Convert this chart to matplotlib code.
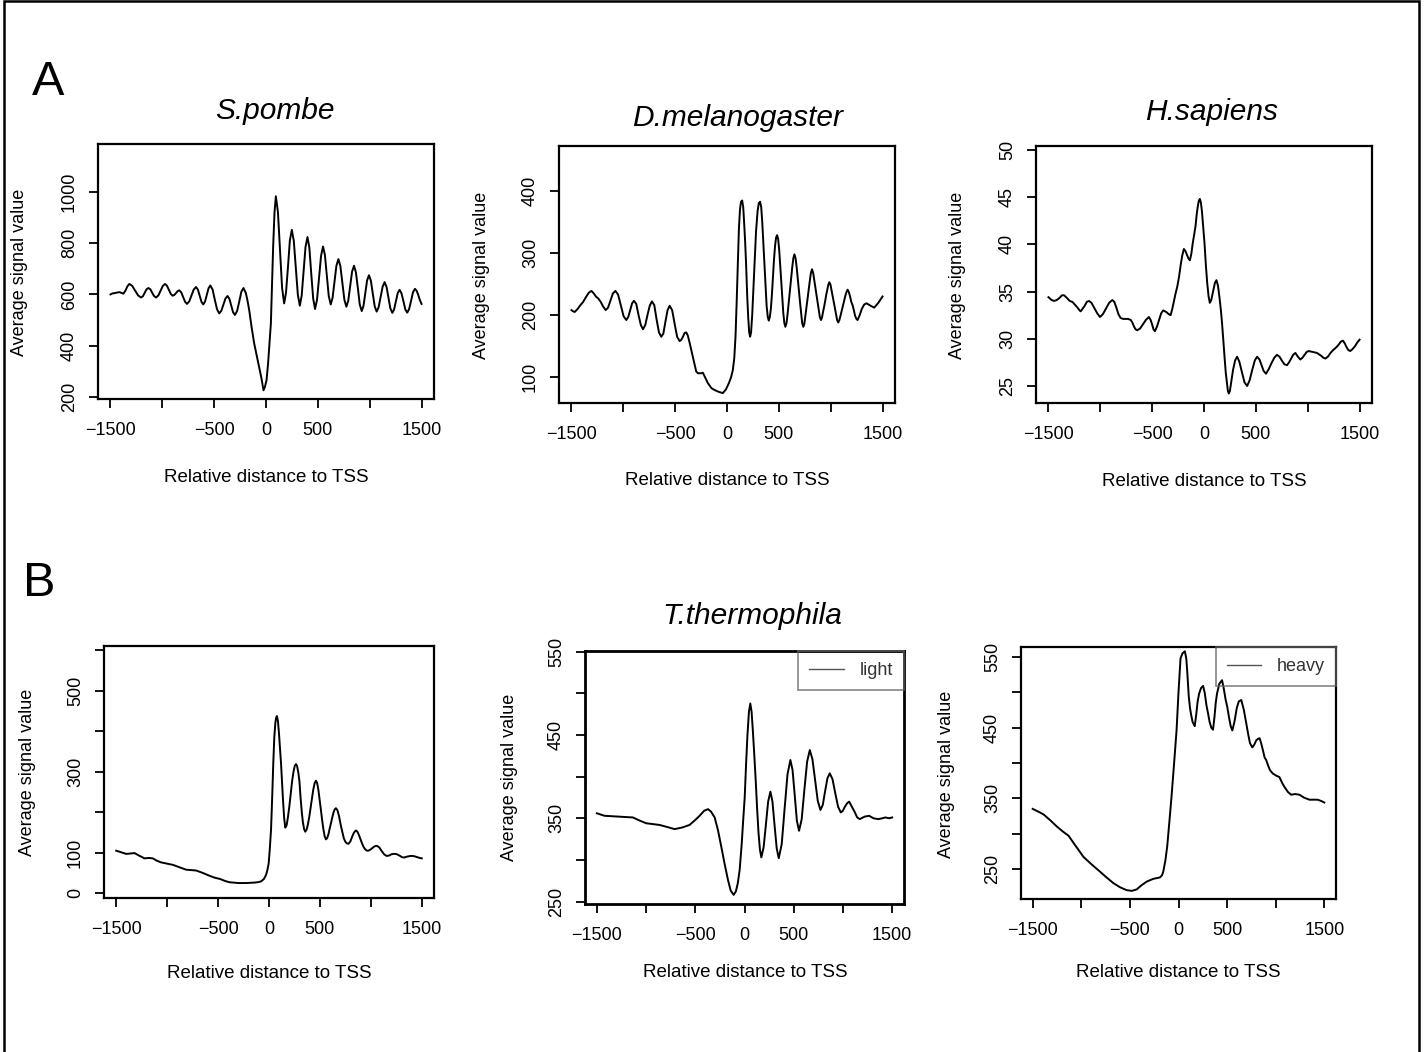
import matplotlib.pyplot as plt
from matplotlib.patches import Rectangle

plt.rcParams['font.family'] = ['Liberation Sans', 'DejaVu Sans']

# ---- average profiles around the TSS ----
pombe_x = [-1500, -1480, -1461, -1440, -1413, -1395, -1375, -1355, -1336, -1317, -1289, -1261, -1233,
           -1205, -1187, -1170, -1152, -1134, -1115, -1097, -1078, -1060, -1038, -1017, -995, -974,
           -955, -937, -918, -900, -884, -868, -852, -836, -817, -799, -780, -762, -740, -718, -697,
           -675, -657, -640, -622, -605, -588, -571, -554, -537, -515, -494, -472, -451, -431, -411,
           -391, -371, -353, -335, -318, -300, -279, -258, -238, -217, -194, -178, -162, -138, -114,
           -90, -66, -45, -24, -10, 5, 20, 35, 47, 58, 69, 82, 95, 115, 135, 155, 175, 193, 212,
           230, 249, 268, 288, 307, 326, 344, 363, 381, 400, 418, 436, 455, 473, 492, 511, 531,
           550, 568, 587, 605, 624, 642, 661, 679, 698, 717, 736, 756, 775, 793, 812, 830, 849,
           867, 886, 904, 923, 940, 958, 975, 993, 1011, 1030, 1048, 1067, 1086, 1105, 1125, 1144,
           1162, 1181, 1199, 1218, 1235, 1253, 1270, 1288, 1306, 1325, 1343, 1362, 1380, 1399,
           1417, 1436, 1452, 1468, 1484, 1500]
pombe_y = [600, 604, 605, 607, 609, 606, 603, 615, 632, 641, 633, 614, 596,
           588, 593, 606, 620, 625, 620, 606, 593, 588, 596, 614, 633, 641,
           634, 618, 602, 595, 598, 605, 613, 616, 608, 590, 571, 563, 573, 596, 619,
           629, 619, 595, 571, 561, 572, 598, 624, 635, 619, 580, 542, 526, 536, 560,
           584, 594, 583, 557, 531, 520, 535, 572, 610, 625, 605, 575, 539, 470, 409,
           362, 317, 275, 226, 240, 265, 330, 420, 487, 640, 787, 920, 983, 922, 774, 626, 565, 607, 708,
           810, 852, 809, 704, 599, 556, 595, 690, 785, 824, 783, 683, 584, 543, 579, 665, 751,
           787, 754, 674, 594, 561, 587, 650, 712, 738, 711, 645, 579, 552, 575, 632, 689, 712,
           686, 624, 561, 535, 555, 605, 655, 675, 654, 604, 554, 533, 550, 590, 631, 648,
           630, 588, 546, 528, 541, 573, 605, 618, 605, 574, 542, 529, 543, 575,
           608, 622, 615, 598, 578, 563]

mel_x = [-1500, -1484, -1468, -1440, -1414, -1388, -1360, -1333, -1307, -1285, -1264, -1243, -1220,
         -1195, -1170, -1147, -1123, -1100, -1076, -1050, -1023, -997, -971, -952, -934, -915, -897,
         -875, -853, -831, -810, -788, -767, -745, -724, -701, -679, -656, -634, -614, -593, -573,
         -553, -529, -505, -481, -457, -441, -425, -409, -393, -378, -360, -345, -320, -297, -280,
         -265, -248, -233, -210, -184, -150, -120, -80, -40, -10, 18, 40, 56, 70, 82, 93, 104,
         115, 125, 135, 146, 156, 165, 175, 184, 195, 205, 214, 223, 232, 243, 254, 265, 280,
         295, 307, 319, 330, 340, 350, 361, 372, 382, 393, 403, 413, 423, 433, 443, 453, 463,
         473, 483, 493, 503, 513, 523, 533, 543, 553, 563, 574, 585, 596, 607, 618, 629, 640,
         650, 661, 672, 682, 693, 704, 715, 725, 736, 746, 757, 767, 778, 788, 799, 809, 820,
         831, 842, 852, 863, 874, 884, 895, 906, 916, 926, 936, 946, 956, 967, 977, 987, 998,
         1008, 1019, 1030, 1041, 1052, 1062, 1073, 1084, 1096, 1107, 1118, 1129, 1141, 1152,
         1163, 1175, 1187, 1199, 1211, 1223, 1235, 1247, 1259, 1280, 1300, 1323, 1346, 1385,
         1420, 1460, 1500]
mel_y = [208, 206, 205, 210, 216, 221, 229, 236, 239, 235, 230, 227, 222,
         214, 208, 212, 224, 235, 239, 233, 215, 198, 192, 197, 208, 219, 223,
         218, 200, 184, 177, 184, 200, 215, 222, 216, 193, 172, 165, 170, 190, 208,
         215, 208, 186, 165, 158, 160, 165, 171, 172, 167, 155, 144, 125, 109, 106,
         106, 106, 107, 99, 90, 82, 79, 76, 74, 80, 90, 100, 111, 130, 165, 220, 283,
         340, 370, 383, 385, 375, 350, 318, 283, 230, 195, 172, 165, 172, 200, 240, 283, 335,
         368, 381, 383, 374, 350, 318, 283, 245, 215, 197, 191, 197, 210, 233, 260, 289, 311,
         325, 329, 323, 306, 281, 255, 228, 203, 187, 181, 187, 203, 221, 240, 259, 277, 292,
         298, 292, 277, 259, 240, 221, 203, 187, 181, 186, 200, 214, 228, 242, 256, 268, 274,
         268, 256, 245, 233, 221, 209, 197, 192, 196, 205, 213, 222, 232, 241, 249, 253, 249,
         240, 230, 220, 210, 200, 192, 188, 192, 200, 208, 215, 223, 231, 237,
         241, 237, 230, 221, 216, 208, 199, 194, 192, 200, 210, 217, 219, 215,
         212, 220, 230]

sap_x = [-1500, -1470, -1445, -1420, -1395, -1370, -1349, -1320, -1295, -1269, -1245, -1220, -1200,
         -1189, -1170, -1150, -1130, -1109, -1085, -1060, -1030, -1003, -975, -945, -915, -884,
         -865, -845, -825, -804, -780, -760, -735, -707, -690, -675, -660, -643, -615, -590, -560,
         -531, -515, -500, -487, -473, -453, -433, -413, -393, -375, -360, -340, -322, -305, -290,
         -274, -258, -240, -225, -210, -194, -180, -165, -150, -136, -122, -110, -95, -82, -70,
         -60, -50, -40, -30, -20, -8, 5, 18, 31, 44, 56, 70, 88, 105, 120, 135, 150, 163, 175,
         188, 200, 210, 220, 230, 239, 250, 265, 280, 300, 319, 340, 365, 390, 416, 440, 465,
         490, 512, 535, 555, 575, 598, 625, 650, 678, 704, 728, 750, 775, 801, 820, 840, 860,
         881, 905, 929, 950, 970, 990, 1009, 1050, 1089, 1130, 1150, 1170, 1195, 1220, 1245,
         1266, 1285, 1300, 1320, 1340, 1358, 1375, 1392, 1410, 1432, 1455, 1478, 1500]
sap_y = [34.4, 34.1, 34.0, 34.1, 34.3, 34.6, 34.6, 34.3, 34.0, 33.9, 33.6, 33.3, 33.0,
         32.9, 33.2, 33.5, 33.9, 34.0, 33.8, 33.3, 32.7, 32.3, 32.6, 33.2, 33.8, 34.1,
         33.9, 33.3, 32.6, 32.2, 32.1, 32.1, 32.1, 32.0, 31.7, 31.3, 31.0, 30.9, 31.1, 31.5, 32.0,
         32.3, 32.0, 31.5, 31.0, 30.8, 31.3, 32.0, 32.7, 33.0, 32.9, 32.8, 32.6, 32.5, 33.2, 34.0,
         34.8, 35.5, 36.6, 37.8, 38.8, 39.5, 39.3, 38.9, 38.5, 38.3, 39.0, 40.0, 41.0, 41.9, 43.2,
         44.0, 44.6, 44.8, 44.4, 43.5, 41.8, 40.1, 37.8, 35.9, 34.5, 33.8, 34.1, 35.0, 35.9, 36.2, 35.6, 34.3, 33.0, 31.5,
         29.5, 27.8, 26.4, 25.4, 24.5, 24.2, 24.5, 25.6, 26.7, 27.7, 28.1, 27.6, 26.5, 25.4, 25.0, 25.6, 26.7,
         27.7, 28.1, 27.8, 27.2, 26.6, 26.3, 26.8, 27.4, 28.0, 28.3, 28.1, 27.7, 27.3, 27.2, 27.5, 27.9, 28.3,
         28.5, 28.1, 27.8, 28.0, 28.3, 28.6, 28.7, 28.6, 28.5, 28.2, 28.0, 27.9, 28.1, 28.5, 28.8,
         29.0, 29.2, 29.4, 29.7, 29.8, 29.5, 29.1, 28.8, 28.7, 28.9, 29.2, 29.6, 29.9]

tt_x = [-1500, -1450, -1402, -1360, -1320, -1270, -1222, -1180, -1141, -1100, -1059, -1000, -944,
        -880, -814, -760, -716, -650, -585, -530, -480, -430, -389, -340, -300, -225, -150, -110,
        -78, -50, -29, -15, -3, 8, 20, 31, 42, 52, 62, 70, 78, 88, 98, 108, 118, 128, 138, 149,
        160, 173, 186, 200, 213, 226, 239, 252, 265, 276, 288, 299, 310, 322, 333, 345, 356, 369,
        382, 395, 408, 421, 434, 448, 461, 473, 485, 497, 510, 522, 534, 547, 559, 571, 584, 596,
        608, 620, 633, 645, 657, 672, 688, 703, 719, 734, 750, 765, 781, 799, 817, 835, 853, 868,
        884, 900, 915, 931, 946, 962, 977, 997, 1018, 1038, 1059, 1083, 1107, 1130, 1154, 1180,
        1200, 1222, 1245, 1265, 1287, 1305, 1327, 1350, 1370, 1390, 1409, 1430, 1455, 1480, 1500]
tt_y = [105, 101, 97, 98, 99, 92, 86, 87, 86, 80, 76, 73, 70,
        64, 58, 57, 56, 50, 43, 38, 35, 30, 27, 26, 25, 25, 26, 27,
        29, 35, 45, 58, 74, 110, 157, 235, 321, 385, 420, 434, 438, 425, 395, 358, 321, 272, 228, 185,
        162, 168, 188, 215, 245, 275, 298, 314, 319, 314, 298, 276, 236, 200, 175, 158, 152, 157,
        170, 188, 210, 233, 255, 272, 278, 272, 255, 232, 205, 180, 158, 140, 133, 136, 146, 160,
        172, 186, 199, 207, 210, 205, 190, 170, 152, 136, 127, 123, 122, 128, 140, 150, 155, 152,
        143, 132, 122, 113, 108, 105, 105, 108, 112, 116, 117, 113, 104, 96, 92, 93,
        96, 97, 97, 95, 92, 89, 88, 90, 91, 92, 92, 91, 89, 87, 86]

light_x = [-1500, -1422, -1280, -1134, -1060, -998, -930, -863, -800, -710, -630, -558, -500,
           -456, -410, -371, -340, -303, -270, -236, -200, -168, -140, -110, -88, -68, -49, -28,
           -12, 2, 16, 30, 45, 59, 72, 85, 100, 114, 128, 142, 157, 171, 194, 217, 240, 263, 284,
           305, 327, 348, 378, 407, 437, 466, 488, 510, 532, 554, 581, 608, 636, 663, 690, 717,
           744, 771, 795, 818, 842, 866, 894, 922, 950, 978, 999, 1020, 1042, 1063, 1117, 1145,
           1171, 1220, 1266, 1310, 1358, 1400, 1430, 1470, 1500]
light_y = [356, 353, 352, 351, 347, 344, 343, 342, 340, 337, 339, 342, 348,
           353, 359, 361, 358, 351, 336, 316, 294, 276, 263, 258, 262, 272, 288, 320,
           350, 375, 415, 450, 478, 488, 478, 455, 425, 395, 362, 333, 312, 303, 315, 342, 370, 382, 370,
           342, 314, 302, 319, 361, 403, 420, 408, 378, 347, 335, 349, 384, 418, 432, 421, 396,
           371, 360, 366, 382, 398, 404, 397, 380, 364, 357, 359, 364, 368, 370, 358, 351,
           349, 352, 353, 350, 349, 350, 351, 350, 351]

heavy_x = [-1500, -1440, -1387, -1320, -1251, -1190, -1131, -1060, -977, -890, -806, -740, -670,
           -600, -533, -480, -431, -380, -328, -260, -191, -170, -157, -135, -116, -95, -72, -45,
           -20, 0, 21, 41, 65, 80, 92, 105, 118, 130, 145, 167, 182, 197, 212, 232, 253, 270, 287,
           304, 320, 337, 355, 370, 383, 396, 420, 448, 466, 484, 502, 520, 537, 554, 575, 600,
           620, 646, 672, 697, 715, 735, 759, 780, 800, 818, 834, 850, 870, 885, 902, 920, 940,
           970, 1005, 1038, 1065, 1090, 1125, 1158, 1200, 1244, 1290, 1346, 1390, 1431, 1470, 1500]
heavy_y = [335, 331, 327, 319, 310, 303, 297, 283, 267, 256, 246, 238, 230,
           224, 220, 219, 221, 227, 232, 236, 238, 241, 246, 262, 282, 315, 352, 400,
           446, 500, 548, 555, 558, 548, 525, 495, 478, 468, 458, 452, 468, 487, 498, 506, 509, 499, 482,
           470, 458, 450, 447, 465, 485, 498, 512, 517, 505, 490, 479, 464, 452, 446, 458, 478,
           487, 489, 475, 456, 442, 428, 422, 426, 432, 434, 435, 428, 417, 408, 404, 397, 390,
           385, 382, 380, 372, 366, 359, 355, 356, 355, 351, 348, 348, 348, 346, 344]

x_ticks = [-1500, -1000, -500, 0, 500, 1000, 1500]
x_tick_labels = ['\u22121500', '', '\u2212500', '0', '500', '', '1500']

W, H = 1424, 1052
fig = plt.figure(figsize=(W / 100, H / 100), dpi=100)


def box(l, t, r, b):
    # pixel box -> figure fraction rect
    return [l / W, 1 - b / H, (r - l) / W, (b - t) / H]


def panel(rect, x, y, ylim, yticks, ylabels, frame_lw=1.6, name=None):
    ax = fig.add_axes(rect)
    ax.plot(x, y, color='black', lw=1.4, label=name)
    ax.set_xlim(-1620, 1620)
    ax.set_ylim(*ylim)
    ax.set_xticks(x_ticks)
    ax.set_xticklabels(x_tick_labels, fontsize=13)
    ax.set_yticks(yticks)
    ax.set_yticklabels(ylabels, fontsize=13, rotation=90, va='center')
    ax.tick_params(axis='x', direction='out', length=6.5, width=1.3, pad=10)
    ax.tick_params(axis='y', direction='out', length=6.5, width=1.3, pad=8)
    for s in ax.spines.values():
        s.set_linewidth(frame_lw)
    if name:
        leg = ax.legend(loc='upper right', borderaxespad=0, fancybox=False,
                        edgecolor='#666666', borderpad=0.6, handlelength=1.9,
                        handletextpad=0.9, fontsize=13, labelcolor='#333333')
        leg.get_frame().set_facecolor('none')
        leg.get_frame().set_linewidth(1.2)
        leg.get_lines()[0].set_color('#555555')
        leg.get_lines()[0].set_linewidth(1.0)
    return ax


panel(box(98, 144, 434, 399), pombe_x, pombe_y, (192, 1187),
      [200, 400, 600, 800, 1000], ['200', '400', '600', '800', '1000'])
panel(box(559, 146, 895, 403), mel_x, mel_y, (58, 473),
      [100, 200, 300, 400], ['100', '200', '300', '400'])
panel(box(1036, 146, 1372, 403), sap_x, sap_y, (23.2, 50.4),
      [25, 30, 35, 40, 45, 50], ['25', '30', '35', '40', '45', '50'])
panel(box(104, 646, 434, 898), tt_x, tt_y, (-12, 611),
      [0, 100, 200, 300, 400, 500, 600], ['0', '100', '', '300', '', '500', ''])
panel(box(585, 651, 904, 904), light_x, light_y, (247, 551),
      [250, 300, 350, 400, 450, 500, 550], ['250', '', '350', '', '450', '', '550'],
      frame_lw=2.0, name='light')
panel(box(1021, 647, 1336, 899), heavy_x, heavy_y, (207.5, 564),
      [250, 300, 350, 400, 450, 500, 550], ['250', '', '350', '', '450', '', '550'],
      name='heavy')

# titles, panel letters, axis labels
title_kw = dict(fontsize=21.5, style='italic', ha='center', va='baseline')
fig.text(275 / W, 1 - 119 / H, 'S.pombe', **title_kw)
fig.text(738 / W, 1 - 126 / H, 'D.melanogaster', **title_kw)
fig.text(1212 / W, 1 - 120 / H, 'H.sapiens', **title_kw)
fig.text(752 / W, 1 - 624 / H, 'T.thermophila', **title_kw)
fig.text(48 / W, 1 - 95 / H, 'A', fontsize=35, ha='center', va='baseline')
fig.text(39 / W, 1 - 596 / H, 'B', fontsize=35, ha='center', va='baseline')

for cx, by in [(266, 482), (727, 485), (1204, 486), (269, 978), (745, 977), (1178, 977)]:
    fig.text(cx / W, 1 - by / H, 'Relative distance to TSS', fontsize=13.5,
             ha='center', va='baseline')
for cx, cy in [(20, 272), (481, 275), (958, 275), (28, 772), (510, 777), (947, 774)]:
    fig.text(cx / W, 1 - cy / H, 'Average signal value', fontsize=13,
             rotation=90, ha='center', va='center')

# outer frame
fig.patches.append(Rectangle((4 / W, -0.05), (1418.5 - 4) / W, 1.05 - 1 / H,
                             transform=fig.transFigure, fill=False,
                             edgecolor='black', lw=1.8))

fig.savefig('out.png', dpi=100)
